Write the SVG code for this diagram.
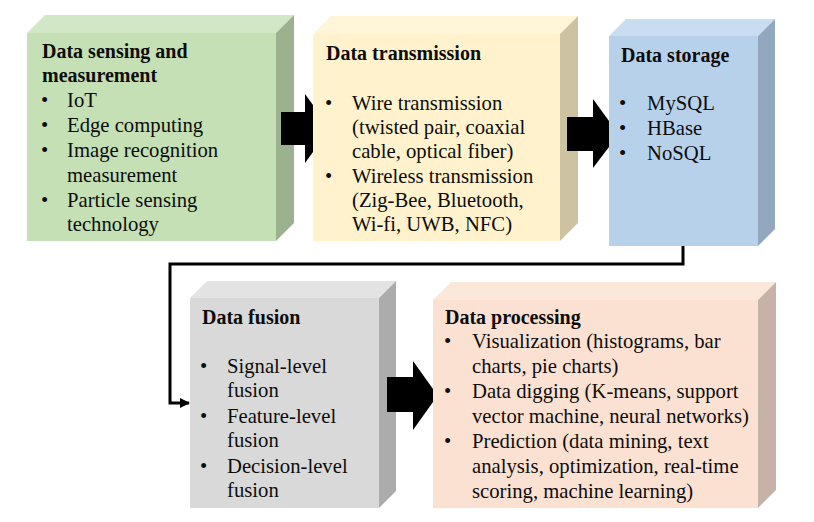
<svg xmlns="http://www.w3.org/2000/svg" width="814" height="522" viewBox="0 0 814 522">
<style>
text{font-family:"Liberation Serif","Times New Roman",serif;fill:#0d0d0d;font-size:20.7px}
.t{font-weight:bold;font-size:20px}
.arr{fill:#000}
.con{fill:none;stroke:#000;stroke-width:3}
</style>
<defs>
<marker id="ah" markerWidth="10" markerHeight="10" refX="9" refY="5" orient="auto" markerUnits="userSpaceOnUse">
<path d="M0,0 L10,5 L0,10 Z" fill="#000"/>
</marker>
</defs>
<rect width="814" height="522" fill="#fff"/>
<g id="node-sensing">
<polygon points="27,33 45,15 294,15 276,33" fill="#d2e7c5"/>
<polygon points="276,33 294,15 294,223 276,241" fill="#9cb28e"/>
<rect x="27" y="33" width="249" height="208" fill="#c5e0b4"/>
<text class="t" x="42" y="58">Data sensing and</text>
<text class="t" x="42" y="82">measurement</text>
<text x="41" y="107">•</text><text x="67" y="107">IoT</text>
<text x="41" y="132">•</text><text x="67" y="132">Edge computing</text>
<text x="41" y="157">•</text><text x="67" y="157">Image recognition</text>
<text x="67" y="182">measurement</text>
<text x="41" y="207">•</text><text x="67" y="207">Particle sensing</text>
<text x="67" y="231">technology</text>
</g>
<g id="node-transmission">
<polygon points="313,34 331,16 578,16 560,34" fill="#fff6da"/>
<polygon points="560,34 578,16 578,223 560,241" fill="#cdc3a3"/>
<rect x="313" y="34" width="247" height="207" fill="#fff2cc"/>
<text class="t" x="326" y="60">Data transmission</text>
<text x="325" y="110">•</text><text x="352" y="110">Wire transmission</text>
<text x="352" y="134">(twisted pair, coaxial</text>
<text x="352" y="158">cable, optical fiber)</text>
<text x="325" y="183">•</text><text x="352" y="183">Wireless transmission</text>
<text x="352" y="207">(Zig-Bee, Bluetooth,</text>
<text x="352" y="231">Wi-fi, UWB, NFC)</text>
</g>
<g id="node-storage">
<polygon points="609,36 626,19 775,19 758,36" fill="#c9ddf0"/>
<polygon points="758,36 775,19 775,229 758,246" fill="#93a8be"/>
<rect x="609" y="36" width="149" height="210" fill="#b8d1ea"/>
<text class="t" x="621" y="62">Data storage</text>
<text x="619" y="110">•</text><text x="647" y="110">MySQL</text>
<text x="619" y="135">•</text><text x="647" y="135">HBase</text>
<text x="619" y="160">•</text><text x="647" y="160">NoSQL</text>
</g>
<g id="node-fusion">
<polygon points="190,298 207,281 396,281 379,298" fill="#e3e3e3"/>
<polygon points="379,298 396,281 396,491 379,508" fill="#acacac"/>
<rect x="190" y="298" width="189" height="210" fill="#d9d9d9"/>
<text class="t" x="202" y="324">Data fusion</text>
<text x="200" y="373">•</text><text x="227" y="373">Signal-level</text>
<text x="227" y="397">fusion</text>
<text x="200" y="423">•</text><text x="227" y="423">Feature-level</text>
<text x="227" y="447">fusion</text>
<text x="200" y="473">•</text><text x="227" y="473">Decision-level</text>
<text x="227" y="497">fusion</text>
</g>
<g id="node-processing">
<polygon points="433,300 451,282 776,282 758,300" fill="#fce8db"/>
<polygon points="758,300 776,282 776,490 758,508" fill="#c6b2a6"/>
<rect x="433" y="300" width="325" height="208" fill="#fbe1d1"/>
<text class="t" x="445" y="324">Data processing</text>
<text x="444" y="348">•</text><text x="472" y="348">Visualization (histograms, bar</text>
<text x="472" y="373">charts, pie charts)</text>
<text x="444" y="398">•</text><text x="472" y="398">Data digging (K-means, support</text>
<text x="472" y="423">vector machine, neural networks)</text>
<text x="444" y="448">•</text><text x="472" y="448">Prediction (data mining, text</text>
<text x="472" y="473">analysis, optimization, real-time</text>
<text x="472" y="498">scoring, machine learning)</text>
</g>
<g id="connectors">
<polygon class="arr" points="281,112 305,112 305,94 313,105 313,152 305,163 305,145 281,145"/>
<polygon class="arr" points="567,117 593,117 593,99 609,121 609,147 593,168 593,151 567,151"/>
<polygon class="arr" points="387,377 413,377 413,361 433,389 433,402 413,430 413,412 387,412"/>
<path class="con" d="M683,246 V264 H170 V403 H189" marker-end="url(#ah)"/>
</g>
</svg>
